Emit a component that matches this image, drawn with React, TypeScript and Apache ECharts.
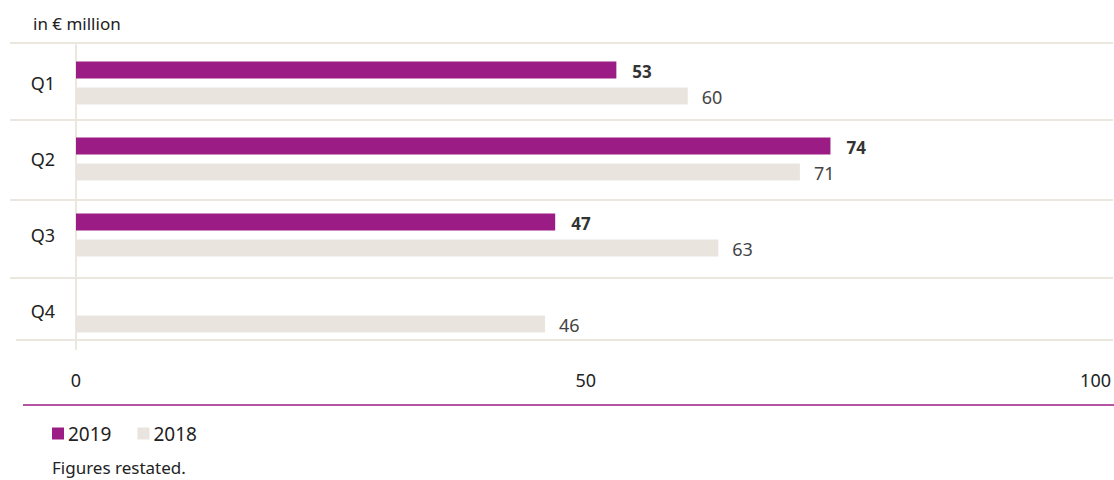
import React, { useEffect, useRef } from "react";
import * as echarts from "echarts";

const categories = ["Q1", "Q2", "Q3", "Q4"];
const values2019: (number | null)[] = [53, 74, 47, null];
const values2018: number[] = [60, 71, 63, 46];
const xTicks = { min: 0, max: 100, interval: 50 };
const seriesNames = ["2019", "2018"];
const separatorYs = [43, 120, 200, 278, 340];

const FONT = "'Noto Sans', 'Open Sans', sans-serif";
const PURPLE = "#9b1c84";
const BEIGE = "#e9e5de";
const LINE = "#ebe7df";

export default function App() {
  const ref = useRef<HTMLDivElement>(null);
  useEffect(() => {
    if (!ref.current) return;
    const chart = echarts.init(ref.current, undefined, { renderer: "svg" });
    const separators = separatorYs.map((y, i) => ({
      type: "line",
      shape: { x1: i === separatorYs.length - 1 ? 16 : 10, y1: y, x2: 1113, y2: y },
      style: { stroke: LINE, lineWidth: 2 },
      z: -1,
    }));
    chart.setOption({
      animation: false,
      textStyle: { fontFamily: FONT },
      grid: { left: 76, right: 16, top: 45, height: 304 },
      xAxis: {
        type: "value",
        min: xTicks.min,
        max: xTicks.max,
        interval: xTicks.interval,
        splitLine: { show: false },
        axisLine: { show: false },
        axisTick: { show: false },
        axisLabel: { color: "#222", fontSize: 18, margin: 22, fontFamily: FONT },
      },
      yAxis: {
        type: "category",
        data: categories,
        inverse: true,
        axisLine: { show: true, lineStyle: { color: LINE, width: 2 } },
        axisTick: { show: false },
        axisLabel: { color: "#222", fontSize: 18, margin: 21, fontFamily: FONT },
        splitLine: { show: false },
      },
      legend: {
        left: 47,
        top: 419,
        itemWidth: 12,
        itemHeight: 12,
        itemGap: 26,
        icon: "rect",
        textStyle: { color: "#222", fontSize: 19, fontFamily: FONT, padding: [0, 0, 0, -1] },
        data: seriesNames,
      },
      graphic: [
        ...separators,
        {
          type: "text",
          left: 33,
          top: 15,
          style: { text: "in € million", fill: "#222", font: `17px ${FONT}` },
        },
        {
          type: "line",
          shape: { x1: 23, y1: 405, x2: 1114, y2: 405 },
          style: { stroke: PURPLE, lineWidth: 1.5 },
        },
        {
          type: "text",
          left: 52,
          top: 459,
          style: { text: "Figures restated.", fill: "#222", font: `17px ${FONT}` },
        },
      ],
      series: [
        {
          name: seriesNames[0],
          type: "bar",
          data: values2019,
          barWidth: 17,
          barGap: "53%",
          itemStyle: { color: PURPLE },
          label: {
            show: true,
            position: "right",
            distance: 16,
            offset: [0, 2],
            color: "#333",
            fontWeight: "bold",
            fontSize: 17,
            fontFamily: FONT,
          },
        },
        {
          name: seriesNames[1],
          type: "bar",
          data: values2018,
          barWidth: 17,
          itemStyle: { color: BEIGE },
          label: {
            show: true,
            position: "right",
            distance: 14,
            offset: [0, 1],
            color: "#444",
            fontSize: 18,
            fontFamily: FONT,
          },
        },
      ],
    });
    return () => chart.dispose();
  }, []);
  return (
    <div
      ref={ref}
      style={{ position: "fixed", left: 0, top: 0, width: 1114, height: 480, background: "#fff" }}
    />
  );
}
